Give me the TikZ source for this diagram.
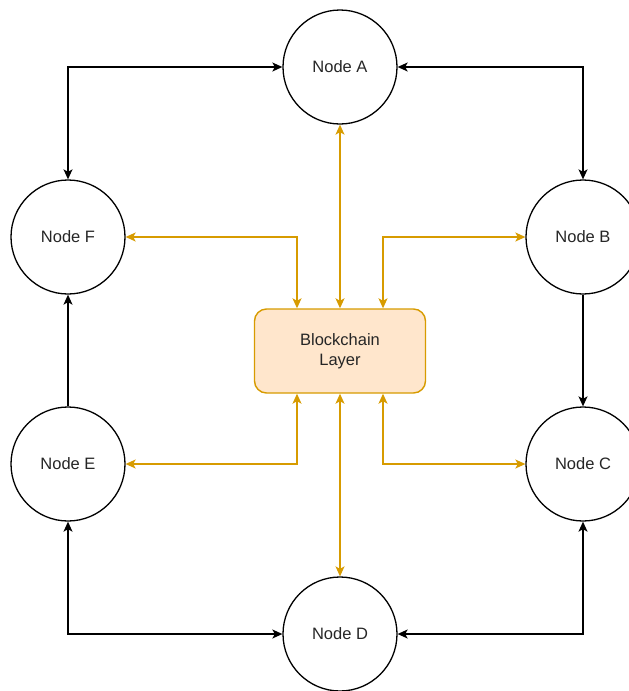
\documentclass[tikz,border=0pt]{standalone}
\usepackage{fontspec}
\setmainfont{Liberation Sans}
\usetikzlibrary{arrows.meta,positioning}
\definecolor{chainline}{HTML}{D79B00}
\definecolor{chainfill}{HTML}{FFE6CC}
\tikzset{
	peer/.style={draw,circle,minimum size=114pt,inner sep=0pt,line width=1.3pt,text=black!85,font=\fontsize{16.5}{20}\selectfont},
	layer/.style={draw=chainline,fill=chainfill,rounded corners=12pt,minimum width=171pt,minimum height=84pt,line width=1.4pt,align=center,text=black!85,font=\fontsize{16.5}{20}\selectfont},
	ring/.style={line width=1.3pt,<->},
	oneway/.style={line width=1.3pt,->},
	feed/.style={line width=1.3pt,draw=chainline,<->}
}

\begin{document}
\begin{tikzpicture}[x=1pt,y=-1pt,>={Stealth[length=10pt,width=9pt,inset=2.5pt]}]
		\useasboundingbox (0,0) rectangle (629,691);
		\node[peer] (A) at (340,67) {Node A};
		\node[peer] (B) at (583,237) {Node B};
		\node[peer] (C) at (583,464) {Node C};
		\node[peer] (D) at (340,634) {Node D};
		\node[peer] (E) at (68,464) {Node E};
		\node[peer] (F) at (68,237) {Node F};
		\node[layer] (L) at (340,351) {Blockchain\\Layer};
		% outer ring
		\draw[ring] (F.north) |- (A.west);
		\draw[ring] (A.east) -| (B.north);
		\draw[oneway] (B.south) -- (C.north);
		\draw[ring] (C.south) |- (D.east);
		\draw[ring] (D.west) -| (E.south);
		\draw[oneway] (E.north) -- (F.south);
		% links to the layer
		\draw[feed] (A.south) -- (L.north);
		\draw[feed] (D.north) -- (L.south);
		\draw[feed] (F.east) -| ([xshift=-43pt]L.north);
		\draw[feed] (B.west) -| ([xshift=43pt]L.north);
		\draw[feed] (E.east) -| ([xshift=-43pt]L.south);
		\draw[feed] (C.west) -| ([xshift=43pt]L.south);
	\end{tikzpicture}
\end{document}
